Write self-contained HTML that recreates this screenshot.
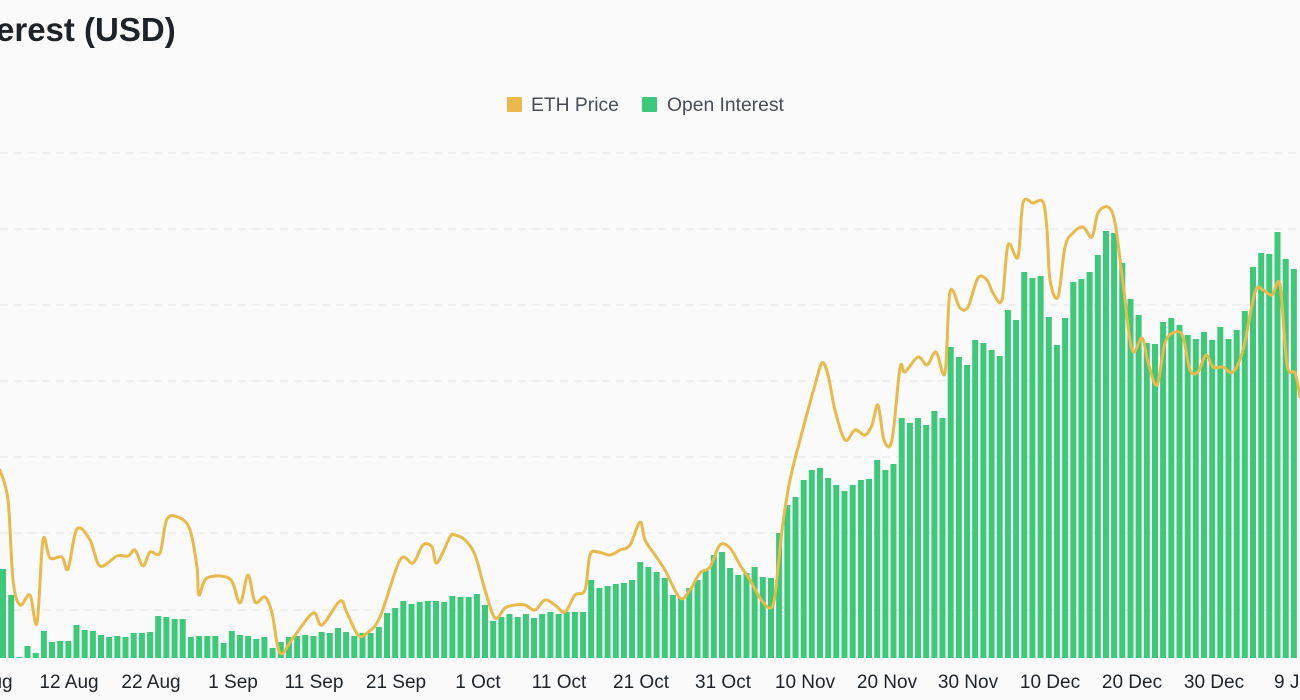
<!DOCTYPE html>
<html><head><meta charset="utf-8"><style>
html,body{margin:0;padding:0;background:#fafafa;}
svg{display:block;font-family:"Liberation Sans",sans-serif;}
</style></head><body>
<svg id="c" width="1300" height="700" viewBox="0 0 1300 700" xmlns="http://www.w3.org/2000/svg">
<rect width="1300" height="700" fill="#fafafa"/>
<text x="-4" y="41" font-size="33" font-weight="bold" fill="#1e2329">erest (USD)</text>
<rect x="507" y="97" width="15" height="15" fill="#e9b949" rx="1"/>
<text x="531" y="111" font-size="19.3" fill="#474d57">ETH Price</text>
<rect x="642" y="97" width="15" height="15" fill="#3cc97a" rx="1"/>
<text x="667" y="111" font-size="19.3" fill="#474d57">Open Interest</text>
<g stroke="#e6e6e6" stroke-width="1" stroke-dasharray="8,6">
<line x1="0" x2="1300" y1="153" y2="153"/><line x1="0" x2="1300" y1="229" y2="229"/>
<line x1="0" x2="1300" y1="305" y2="305"/><line x1="0" x2="1300" y1="381" y2="381"/>
<line x1="0" x2="1300" y1="457" y2="457"/><line x1="0" x2="1300" y1="533" y2="533"/>
<line x1="0" x2="1300" y1="610" y2="610"/>
</g>
<g id="bars" fill="#3cc97a"></g>
<path id="eth" fill="none" stroke="#e9b949" stroke-width="3" stroke-linejoin="round" stroke-linecap="round" d=""/>
<g font-size="19" fill="#1e2329" text-anchor="middle">
<text x="2" y="688">ug</text><text x="69" y="688">12 Aug</text><text x="151" y="688">22 Aug</text>
<text x="233" y="688">1 Sep</text><text x="314" y="688">11 Sep</text><text x="396" y="688">21 Sep</text>
<text x="478" y="688">1 Oct</text><text x="559" y="688">11 Oct</text><text x="641" y="688">21 Oct</text>
<text x="723" y="688">31 Oct</text><text x="805" y="688">10 Nov</text><text x="887" y="688">20 Nov</text>
<text x="968" y="688">30 Nov</text><text x="1050" y="688">10 Dec</text><text x="1132" y="688">20 Dec</text>
<text x="1214" y="688">30 Dec</text><text x="1292" y="688">9 Ja</text>
</g>
</svg>
<script>
var tops=[569,595,657,646,653,631,642,641,641,625,630,631,635,637,636,637,633,633,632,616,617,619,619,637,636,636,636,643,631,635,636,639,637,648,642,637,636,635,636,632,633,628,632,636,633,633,627,613,608,601,604,602,601,601,602,596,597,597,594,605,621,617,614,617,614,618,614,612,614,612,612,612,580,588,586,584,583,580,562,567,572,578,595,598,588,580,570,555,552,568,575,573,567,577,578,533,505,497,480,470,468,478,485,491,485,480,479,460,470,464,418,423,418,425,411,418,347,357,365,340,343,350,356,310,320,272,278,276,317,345,318,282,279,272,255,231,233,263,299,315,343,344,322,318,325,335,339,332,340,327,339,330,311,267,253,254,232,259,269];
var g=document.getElementById('bars'),s='';
for(var k=0;k<tops.length;k++){var x=3+8.17*k-3;s+='<rect x="'+x.toFixed(1)+'" y="'+tops[k]+'" width="6" height="'+(658-tops[k])+'"/>';}
g.innerHTML=s;
var pts=[[0,470],[8,500],[13,580],[20,605],[30,595],[37,623],[43,540],[50,558],[62,557],[68,569],[77,529],[90,540],[100,566],[117,556],[128,556],[135,550],[143,566],[150,552],[160,553],[167,519],[180,518],[190,530],[197,567],[199,595],[207,578],[230,579],[240,603],[248,575],[255,602],[265,597],[272,613],[280,653],[293,638],[313,613],[322,625],[340,601],[347,613],[358,635],[367,633],[380,617],[400,560],[413,563],[423,545],[432,547],[437,563],[450,537],[455,535],[465,540],[475,555],[485,590],[495,618],[505,608],[515,605],[525,605],[535,610],[545,600],[555,605],[565,612],[575,595],[585,590],[590,555],[598,552],[610,555],[620,550],[630,545],[640,522],[645,540],[655,555],[665,570],[680,598],[690,590],[700,573],[710,567],[720,545],[730,548],[740,565],[750,580],[760,598],[770,608],[775,595],[782,530],[790,480],[800,440],[808,410],[815,385],[822,363],[828,375],[835,410],[845,440],[855,430],[865,435],[872,425],[878,405],[884,440],[892,440],[900,368],[905,372],[918,357],[927,365],[936,352],[945,373],[950,292],[960,308],[968,307],[978,278],[987,280],[993,293],[1002,300],[1008,245],[1018,257],[1023,203],[1033,203],[1043,202],[1047,230],[1050,280],[1058,297],[1065,247],[1073,233],[1083,227],[1092,237],[1098,213],[1108,207],[1115,223],[1123,283],[1132,350],[1142,338],[1148,362],[1157,385],[1165,343],[1175,332],[1183,337],[1190,370],[1198,372],[1206,355],[1213,367],[1223,367],[1233,372],[1243,350],[1255,292],[1263,290],[1272,295],[1280,285],[1287,365],[1295,373],[1300,397]];
var d='M'+pts[0][0]+','+pts[0][1];
for(var i=0;i<pts.length-1;i++){
 var p0=pts[Math.max(0,i-1)],p1=pts[i],p2=pts[i+1],p3=pts[Math.min(pts.length-1,i+2)];
 var t=1/6;
 var c1x=p1[0]+(p2[0]-p0[0])*t,c1y=p1[1]+(p2[1]-p0[1])*t;
 var c2x=p2[0]-(p3[0]-p1[0])*t,c2y=p2[1]-(p3[1]-p1[1])*t;
 d+=' C'+c1x.toFixed(1)+','+c1y.toFixed(1)+' '+c2x.toFixed(1)+','+c2y.toFixed(1)+' '+p2[0]+','+p2[1];
}
document.getElementById('eth').setAttribute('d',d);
</script>
</body></html>
